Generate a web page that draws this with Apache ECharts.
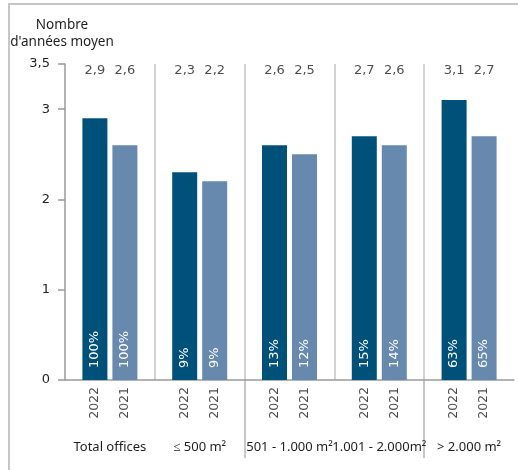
<!DOCTYPE html>
<html>
<head>
<meta charset="utf-8">
<script src="https://cdn.jsdelivr.net/npm/echarts@6/dist/echarts.min.js"></script>
<style>
  html, body { margin: 0; padding: 0; background: #fff; }
  #wrap { position: relative; width: 518px; height: 470px; overflow: hidden; }
  #frame { position: absolute; left: 8px; top: 3px; right: -4px; bottom: -4px;
           border-top: 2px solid #c6c6c6; border-left: 2px solid #c6c6c6; }
  #chart { position: absolute; left: 0; top: 0; width: 518px; height: 470px; }
</style>
</head>
<body>
<div id="wrap">
  <div id="frame"></div>
  <div id="chart"></div>
</div>
<script>
// Office size bands and the two survey years
const groups = ['Total offices', '≤ 500 m²', '501 - 1.000 m²', '1.001 - 2.000m²', '> 2.000 m²'];
const years = ['2022', '2021'];
// Average number of years per band
const avg2022 = [2.9, 2.3, 2.6, 2.7, 3.1];
const avg2021 = [2.6, 2.2, 2.5, 2.6, 2.7];
// Share of offices in each band (%)
const share2022 = [100, 9, 13, 15, 63];
const share2021 = [100, 9, 12, 14, 65];
// Value-axis ticks
const yTicks = [0, 1, 2, 3, 3.5];

const FONT = 'Noto Sans';
const NUM = 'DejaVu Sans';
const TXT = '#1e1e1e';
const DARK = '#00517a';
const LIGHT = '#6689ad';
const SEP = '#c4c4c4';

const comma = v => String(v).replace('.', ',');

const barLabel = shares => ({
  show: true,
  position: 'insideBottom',
  distance: 12,
  rotate: 90,
  align: 'left',
  verticalAlign: 'middle',
  color: '#fff',
  fontFamily: NUM,
  fontSize: 13,
  formatter: p => shares[p.dataIndex] + '%'
});

// value labels sit in a row just under the top of the axis
const topRow = 3.43;
const valueRow = (vals, dx) => ({
  type: 'scatter',
  xAxisIndex: 0, yAxisIndex: 0,
  symbolSize: 0.1,
  itemStyle: { color: 'transparent' },
  silent: true,
  data: vals.map((v, i) => [i, topRow, v]),
  label: {
    show: true, position: 'inside', offset: [dx, 0],
    color: TXT, fontFamily: NUM, fontSize: 13,
    formatter: p => comma(p.value[2])
  },
  z: 5
});

// year labels under each bar, written vertically
const yearRow = (year, dx) => ({
  type: 'scatter',
  xAxisIndex: 0, yAxisIndex: 0,
  symbolSize: 0.1,
  itemStyle: { color: 'transparent' },
  silent: true,
  clip: false,
  data: groups.map((g, i) => [i, 0]),
  label: {
    show: true, position: 'inside', rotate: 90,
    align: 'right', verticalAlign: 'middle',
    offset: [-7, dx],
    color: TXT, fontFamily: NUM, fontSize: 12.5,
    formatter: () => year
  },
  z: 5
});

const chart = echarts.init(document.getElementById('chart'), null, { renderer: 'canvas' });
chart.setOption({
  animation: false,
  textStyle: { fontFamily: FONT },
  graphic: [{
    type: 'text',
    x: 62, y: 17,
    style: {
      text: 'Nombre\nd\'années moyen',
      align: 'center',
      verticalAlign: 'top',
      fill: TXT,
      font: '13.5px "Noto Sans"',
      lineHeight: 17
    }
  }],
  grid: [
    { left: 65, right: 4, top: 64, bottom: 90 },
    { left: 65, right: 4, top: 380, bottom: 12 }
  ],
  xAxis: [{
    type: 'category',
    gridIndex: 0,
    data: groups,
    axisLine: { lineStyle: { color: '#9a9a9a', width: 1.5 } },
    axisTick: { show: false },
    axisLabel: { margin: 61, color: TXT, fontFamily: FONT, fontSize: 13, interval: 0 },
    splitLine: { show: true, showMinLine: false, showMaxLine: false,
                 lineStyle: { color: SEP, width: 1.5 } }
  }, {
    type: 'category',
    gridIndex: 1,
    data: groups,
    axisLine: { show: false },
    axisTick: { show: false },
    axisLabel: { show: false },
    splitLine: { show: true, showMinLine: false, showMaxLine: false,
                 lineStyle: { color: '#b4b4b4', width: 1.5 } }
  }],
  yAxis: [{
    type: 'value',
    gridIndex: 0,
    min: 0, max: 3.5,
    axisLine: { show: true, lineStyle: { color: '#9a9a9a', width: 1.5 } },
    axisTick: { show: true, length: 7, customValues: yTicks,
                lineStyle: { color: '#9a9a9a', width: 1.5 } },
    axisLabel: { customValues: yTicks, margin: 15, color: TXT,
                 fontFamily: NUM, fontSize: 13, formatter: v => comma(v) },
    splitLine: { show: false }
  }, {
    type: 'value',
    gridIndex: 1,
    show: false
  }],
  series: [{
    name: years[0],
    type: 'bar',
    xAxisIndex: 0, yAxisIndex: 0,
    data: avg2022,
    barWidth: 25,
    barGap: '20%',
    itemStyle: { color: DARK },
    label: barLabel(share2022)
  }, {
    name: years[1],
    type: 'bar',
    xAxisIndex: 0, yAxisIndex: 0,
    data: avg2021,
    barWidth: 25,
    barGap: '20%',
    itemStyle: { color: LIGHT },
    label: barLabel(share2021)
  },
  valueRow(avg2022, -15),
  valueRow(avg2021, 15),
  yearRow(years[0], -15),
  yearRow(years[1], 15)
  ]
});
</script>
</body>
</html>
